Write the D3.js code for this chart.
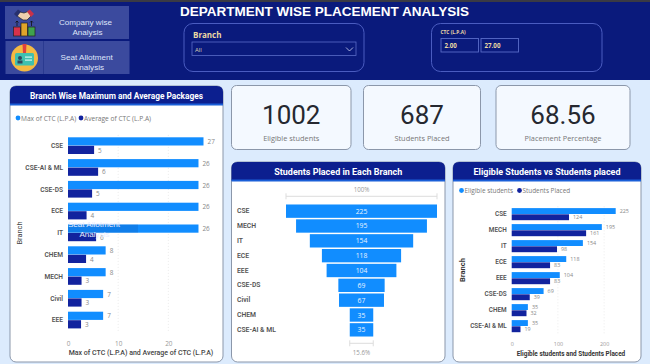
<!DOCTYPE html>
<html><head><meta charset="utf-8">
<style>html,body{margin:0;padding:0;background:#dcebfd;overflow:hidden}svg{display:block}</style>
<script src="https://cdn.jsdelivr.net/npm/d3@7/dist/d3.min.js"></script></head>
<body><svg id="c" width="650" height="364"></svg>
<script>
const branches1 = ["CSE","CSE-AI & ML","CSE-DS","ECE","IT","CHEM","MECH","Civil","EEE"];
const maxCtc = [27,26,26,26,26,7.5,7.5,7,7];
const avgCtc = [5.2,6,4.8,3.7,5.6,3.6,2.7,2.7,2.6];
const ctcTicks = [0,10,20];
const branches2 = ["CSE","MECH","IT","ECE","EEE","CSE-DS","Civil","CHEM","CSE-AI & ML"];
const funnelValues = [225,195,154,118,104,69,67,35,35];
const branches3 = ["CSE","MECH","IT","ECE","EEE","CSE-DS","CHEM","CSE-AI & ML"];
const eligible = [225,195,154,118,104,69,35,35];
const placed = [124,161,98,83,83,39,32,19];
const studentTicks = [0,100,200];
const kpiValues = ["1002","687","68.56"];
const kpiLabels = ["Eligible students","Students Placed","Placement Percentage"];

const NAVY="#0a1a7c",BRIGHT="#118dff",DARK="#12239e",HEAD="#0c1f8f";
const UI="'Open Sans','Noto Sans',sans-serif",DIN="Roboto,'Noto Sans',sans-serif",ARIAL="'Liberation Sans',Arial,sans-serif";
const svg=d3.select("#c");
function txt(g,x,y,s,o={}){return g.append("text").attr("x",x).attr("y",y).attr("text-anchor",o.a||"start").attr("dominant-baseline","central")
 .attr("font-family",o.f||UI).attr("font-size",o.s||8).attr("font-weight",o.w||400).attr("fill",o.c||"#666").text(s);}
svg.append("rect").attr("width",650).attr("height",364).attr("fill","#dcebfd");
svg.append("rect").attr("width",650).attr("height",2).attr("fill","#3a3a44");
svg.append("rect").attr("y",2).attr("width",650).attr("height",78).attr("fill",NAVY);
txt(svg,324.5,11,"DEPARTMENT WISE PLACEMENT ANALYSIS",{a:"middle",f:ARIAL,s:13.5,w:700,c:"#fff"});

// nav buttons
function btn(x,y,w,h){svg.append("rect").attr("x",x).attr("y",y).attr("width",w).attr("height",h).attr("fill","#3b4a9e");}
btn(5,6,124,33);btn(5.5,41,124,33);
svg.append("line").attr("x1",43.5).attr("x2",43.5).attr("y1",41).attr("y2",74).attr("stroke","#2a3a90");
const BT={s:8.1,c:"#dfe5fa",f:ARIAL};
txt(svg,85.5,22.5,"Company wise",{a:"middle",...BT});
txt(svg,87.5,32,"Analysis",{a:"middle",...BT});
txt(svg,86.7,57.5,"Seat Allotment",{a:"middle",...BT});
txt(svg,89,67,"Analysis",{a:"middle",...BT});
// icon 1: handshake over podium
const i1=svg.append("g");
[[13.5,27,7,9,"#d8324a"],[21,23,6.5,13,"#e0a52a"],[28,27,7,9,"#3fa34d"]].forEach(r=>i1.append("rect").attr("x",r[0]).attr("y",r[1]).attr("width",r[2]).attr("height",r[3]).attr("fill",r[4]).attr("stroke","#222").attr("stroke-width",.7));
["M17 26 V21 M15.5 22.5 L17 21 L18.5 22.5","M31.5 26 V21 M30 22.5 L31.5 21 L33 22.5"].forEach(d=>i1.append("path").attr("d",d).attr("fill","none").attr("stroke","#111").attr("stroke-width",.8));
i1.append("path").attr("d","M16 15 L20 12 L24 13 L28 11.5 L32 15 L27 20 L23 20 L20 18 Z").attr("fill","#eed0ae").attr("stroke","#222").attr("stroke-width",.7);
i1.append("path").attr("d","M14 14 L18 9.5 L21 11.5 L17 17 Z").attr("fill","#27306e");
i1.append("path").attr("d","M34 14 L30 9.5 L27 11.5 L31 17 Z").attr("fill","#c8324a");
// icon 2: badge on yellow disc
const i2=svg.append("g");
i2.append("circle").attr("cx",24.5).attr("cy",58).attr("r",13.5).attr("fill","#f5b942");
i2.append("path").attr("d","M22.5 44 L26.5 44 L26 53 L23 53 Z").attr("fill","#e0413e");
i2.append("rect").attr("x",15).attr("y",53).attr("width",19).attr("height",12.5).attr("rx",1.5).attr("fill","#3fc1b0");
i2.append("circle").attr("cx",20).attr("cy",58).attr("r",2).attr("fill","#33475b");
i2.append("rect").attr("x",17.5).attr("y",60.5).attr("width",5).attr("height",3).attr("fill","#33475b");
i2.append("rect").attr("x",25).attr("y",56.5).attr("width",7).attr("height",1.2).attr("fill","#d8f4ef");
i2.append("rect").attr("x",25).attr("y",59.5).attr("width",7).attr("height",1.2).attr("fill","#d8f4ef");

// slicers
function slicer(x,w){svg.append("rect").attr("x",x).attr("y",23.5).attr("width",w).attr("height",48).attr("rx",9).attr("fill","none").attr("stroke","#4a5cc0").attr("stroke-width",1);}
slicer(184,180);slicer(431.5,170.5);
const TAN="#ecd9a4";
txt(svg,193,34.5,"Branch",{s:8,w:700,c:TAN});
svg.append("rect").attr("x",192).attr("y",42).attr("width",164).attr("height",13.5).attr("fill","none").attr("stroke","#5a6cc8").attr("stroke-width",.8);
txt(svg,195,50,"All",{s:6,c:"#d9cfb0"});
svg.append("path").attr("d","M346 47.5 L349.5 51 L353 47.5").attr("fill","none").attr("stroke","#cdd3ef").attr("stroke-width",.8);
txt(svg,440.5,32,"CTC (L.P.A)",{s:4.8,w:700,c:TAN});
[[441,"2.00"],[481,"27.00"]].forEach(d=>{
 svg.append("rect").attr("x",d[0]).attr("y",38.5).attr("width",37.5).attr("height",13.5).attr("fill","none").attr("stroke","#5a6cc8").attr("stroke-width",.9);
 txt(svg,d[0]+3.5,45.5,d[1],{s:6.2,w:700,c:TAN});
});

// panels
function panel(x,y,w,h,title,ts,tw){
 svg.append("rect").attr("x",x).attr("y",y).attr("width",w).attr("height",h).attr("rx",6).attr("fill","#fff").attr("stroke","#8b97aa").attr("stroke-width",1);
 const hh=18.5,r=6;
 svg.append("path").attr("d",`M${x} ${y+hh} V${y+r} Q${x} ${y} ${x+r} ${y} H${x+w-r} Q${x+w} ${y} ${x+w} ${y+r} V${y+hh} Z`).attr("fill",HEAD);
 svg.append("rect").attr("x",x).attr("y",y+hh-1).attr("width",w).attr("height",2).attr("fill","#1a5fd8");
 txt(svg,x+w/2,y+9,title,{a:"middle",s:ts,w:700,c:"#fff",f:DIN}).attr("textLength",tw).attr("lengthAdjust","spacingAndGlyphs");
}
panel(10,86,213,276,"Branch Wise Maximum and Average Packages",9.4,173);
panel(231.5,162,213.5,200,"Students Placed in Each Branch",9.8,128);
panel(453,162,188,200,"Eligible Students vs Students placed",9.6,147);

// KPI cards
[[231.5,119.5],[363.5,117],[496,134]].forEach((c,i)=>{
 const cx=c[0]+c[1]/2;
 svg.append("rect").attr("x",c[0]).attr("y",85.5).attr("width",c[1]).attr("height",64).attr("rx",5).attr("fill","#f4f9ff").attr("stroke","#8b97aa").attr("stroke-width",1);
 txt(svg,cx,115,kpiValues[i],{a:"middle",s:26,c:"#252830",f:DIN});
 txt(svg,cx,137.5,kpiLabels[i],{a:"middle",s:7.4,c:"#777"});
});

// legend helper
function legend(xs,y,items,s){items.forEach((it,k)=>{
 svg.append("circle").attr("cx",xs[k]).attr("cy",y).attr("r",2.4).attr("fill",it.c);
 txt(svg,xs[k]+3,y,it.t,{s,c:"#777"});
});}

// grouped horizontal bars
function grouped(cfg){
 const x=d3.scaleLinear().domain(cfg.xd).range(cfg.xr);
 const y=d3.scaleBand().domain(cfg.cats).range(cfg.yr).paddingInner(cfg.pad).paddingOuter(cfg.pad/2);
 const sub=d3.scaleBand().domain([0,1]).range([0,y.bandwidth()]);
 const g=svg.append("g");
 g.selectAll("line.gr").data(cfg.ticks.slice(1)).join("line").attr("x1",d=>x(d)).attr("x2",d=>x(d)).attr("y1",cfg.yr[0]).attr("y2",cfg.yr[1])
  .attr("stroke","#e4e4e4").attr("stroke-width",.7).attr("stroke-dasharray","1 2");
 [cfg.a,cfg.b].forEach((vals,k)=>{
  g.selectAll("rect.s"+k).data(vals).join("rect").attr("class","s"+k).attr("x",x(0)).attr("y",(d,i)=>y(cfg.cats[i])+sub(k)).attr("width",d=>x(d)-x(0)).attr("height",sub.bandwidth()-.3).attr("fill",k?DARK:BRIGHT);
  g.selectAll("text.l"+k).data(vals).join("text").attr("class","l"+k).attr("x",d=>x(d)+4).attr("y",(d,i)=>y(cfg.cats[i])+sub(k)+sub.bandwidth()/2)
   .attr("dominant-baseline","central").attr("font-family",UI).attr("font-size",cfg.ls).attr("fill","#888").text(d3.format(".0f"));
 });
 const ya=g.append("g").attr("transform",`translate(${cfg.xr[0]},0)`).call(d3.axisLeft(y).tickSize(0).tickPadding(5));
 ya.select(".domain").remove();
 ya.selectAll("text").attr("font-family",DIN).attr("font-size",cfg.cs).attr("font-weight",600).attr("fill","#555");
 const xa=g.append("g").attr("transform",`translate(0,${cfg.ty})`).call(d3.axisBottom(x).tickValues(cfg.ticks).tickSize(0).tickPadding(0));
 xa.select(".domain").remove();
 xa.selectAll("text").attr("font-family",UI).attr("font-size",cfg.ls).attr("fill","#999").attr("dy",0).attr("dominant-baseline","central");
 return {x,y,sub};
}
const left=grouped({cats:branches1,a:maxCtc,b:avgCtc,xd:[0,27],xr:[68,203.5],yr:[134.9,331.1],pad:.22,ticks:ctcTicks,ty:343.5,ls:6.4,cs:6.6});
legend([18,81],118,[{c:BRIGHT,t:"Max of CTC (L.P.A)"},{c:DARK,t:"Average of CTC (L.P.A)"}],6.6);
txt(svg,141,352.5,"Max of CTC (L.P.A) and Average of CTC (L.P.A)",{a:"middle",s:7,c:"#444",f:DIN,w:500});
txt(svg,0,0,"Branch",{a:"middle",s:7.4,c:"#444",f:DIN,w:400}).attr("transform","translate(19,233) rotate(-90)");

grouped({cats:branches3,a:eligible,b:placed,xd:[0,225],xr:[511.7,615.7],yr:[206.3,334.3],pad:.225,ticks:studentTicks,ty:344,ls:5.4,cs:6.4});
legend([461.5,519.5],190.5,[{c:BRIGHT,t:"Eligible students"},{c:DARK,t:"Students Placed"}],6.4);
txt(svg,571,353.7,"Eligible students and Students Placed",{a:"middle",s:6.4,w:700,c:"#333",f:DIN});
txt(svg,0,0,"Branch",{a:"middle",s:7.6,w:700,c:"#333",f:DIN}).attr("transform","translate(462.7,270) rotate(-90)");

// funnel
const fx=d3.scaleLinear().domain([0,225]).range([0,151]);
const fy=d3.scaleBand().domain(branches2).range([203,338]).padding(.1);
const fc=361.5;
const f=svg.append("g");
f.selectAll("rect").data(funnelValues).join("rect").attr("x",d=>fc-fx(d)/2).attr("y",(d,i)=>fy(branches2[i])).attr("width",d=>fx(d)).attr("height",fy.bandwidth()).attr("fill",BRIGHT);
f.selectAll("text.v").data(funnelValues).join("text").attr("class","v").attr("x",fc).attr("y",(d,i)=>fy(branches2[i])+fy.bandwidth()/2).attr("text-anchor","middle").attr("dominant-baseline","central")
 .attr("font-family",UI).attr("font-size",6.8).attr("fill","#e8f3ff").text(d=>d);
f.selectAll("text.c").data(branches2).join("text").attr("class","c").attr("x",237).attr("y",d=>fy(d)+fy.bandwidth()/2).attr("dominant-baseline","central")
 .attr("font-family",DIN).attr("font-size",6.8).attr("font-weight",600).attr("fill","#555").text(d=>d);
function bracket(v,y,label,ly){
 const w=fx(v),x0=fc-w/2,x1=fc+w/2;
 f.append("path").attr("d",`M${x0} ${y-3} V${y+3} M${x0} ${y} H${x1} M${x1} ${y-3} V${y+3}`).attr("fill","none").attr("stroke","#ddd").attr("stroke-width",1);
 txt(f,fc,ly,label,{a:"middle",s:6.2,c:"#999"});
}
bracket(funnelValues[0],196.3,"100%",189);
bracket(funnelValues[8],343.3,d3.format(".1f")(funnelValues[8]/funnelValues[0]*100)+"%",352.3);

// ghost button text overlapping the IT row, tinting only the IT max bar
svg.append("rect").attr("x",left.x(0)).attr("y",left.y("IT")).attr("width",70).attr("height",left.sub.bandwidth()-.3).attr("fill","#0d47a1").attr("opacity",.22);
txt(svg,94,224.5,"Seat Allotment",{a:"middle",s:8.1,c:"#e8edff",f:ARIAL});
txt(svg,94.5,234,"Analysis",{a:"middle",s:8.1,c:"#e8edff",f:ARIAL});
</script></body></html>
